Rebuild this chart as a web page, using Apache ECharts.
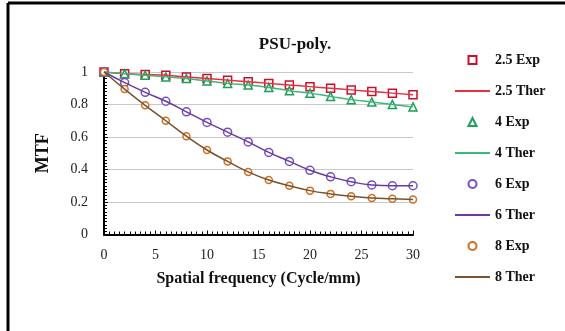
<!DOCTYPE html>
<html>
<head>
<meta charset="utf-8">
<script src="https://cdn.jsdelivr.net/npm/echarts@6/dist/echarts.min.js"></script>
<style>
  html, body { margin: 0; padding: 0; background: #fff; }
  #chart { width: 565px; height: 331px; }
</style>
</head>
<body>
<div id="chart"></div>
<script>
// 空间频率 (Cycle/mm)
var freq = [0, 2, 4, 6, 8, 10, 12, 14, 16, 18, 20, 22, 24, 26, 28, 30];
// MTF 实验值
var exp25 = [1.0, 0.99, 0.985, 0.98, 0.97, 0.96, 0.95, 0.94, 0.93, 0.92, 0.91, 0.90, 0.89, 0.88, 0.87, 0.86];
var exp4  = [1.0, 0.99, 0.98, 0.97, 0.96, 0.945, 0.93, 0.92, 0.905, 0.885, 0.87, 0.85, 0.83, 0.815, 0.80, 0.785];
var exp6  = [1.0, 0.935, 0.875, 0.82, 0.755, 0.69, 0.63, 0.57, 0.505, 0.45, 0.395, 0.355, 0.325, 0.305, 0.30, 0.30];
var exp8  = [1.0, 0.895, 0.795, 0.70, 0.605, 0.52, 0.45, 0.385, 0.335, 0.30, 0.27, 0.25, 0.235, 0.225, 0.22, 0.215];
// MTF 理论值
var ther25 = [1.0, 0.99, 0.985, 0.98, 0.97, 0.96, 0.95, 0.94, 0.93, 0.92, 0.91, 0.90, 0.89, 0.88, 0.87, 0.86];
var ther4  = [1.0, 0.99, 0.98, 0.97, 0.96, 0.945, 0.93, 0.92, 0.905, 0.885, 0.87, 0.85, 0.83, 0.815, 0.80, 0.785];
var ther6  = [1.0, 0.935, 0.875, 0.82, 0.755, 0.69, 0.63, 0.57, 0.505, 0.45, 0.395, 0.355, 0.325, 0.305, 0.30, 0.30];
var ther8  = [1.0, 0.895, 0.795, 0.70, 0.605, 0.52, 0.45, 0.385, 0.335, 0.30, 0.27, 0.25, 0.235, 0.225, 0.22, 0.215];

var expNames = ['2.5 Exp', '4 Exp', '6 Exp', '8 Exp'];
var therNames = ['2.5 Ther', '4 Ther', '6 Ther', '8 Ther'];

function pairs(ys) {
  var out = [];
  for (var i = 0; i < freq.length; i++) {
    out.push([freq[i], ys[i]]);
  }
  return out;
}

// 实验值: 只画空心标记
function expSeries(name, ys, symbol, color, size) {
  return {
    name: name,
    type: 'line',
    data: pairs(ys),
    symbol: symbol,
    symbolSize: size,
    showSymbol: true,
    z: 3,
    lineStyle: { width: 0, opacity: 0 },
    itemStyle: { color: '#fff', borderColor: color, borderWidth: 1.5 }
  };
}

// 理论值: 只画线
function therSeries(name, ys, color) {
  return {
    name: name,
    type: 'line',
    data: pairs(ys),
    symbol: 'none',
    smooth: true,
    z: 4,
    lineStyle: { color: color, width: 1.5 },
    itemStyle: { color: color }
  };
}

var legendData = [];
for (var k = 0; k < expNames.length; k++) {
  legendData.push({ name: expNames[k], lineStyle: { opacity: 0, width: 0 } });
  legendData.push({ name: therNames[k], itemStyle: { opacity: 0 } });
}

var font = '"Liberation Serif", "Times New Roman", serif';

var option = {
  backgroundColor: '#fff',
  animation: false,
  title: {
    text: 'PSU-poly.',
    left: 290,
    textAlign: 'center',
    top: 31,
    textStyle: { fontFamily: font, fontWeight: 'bold', fontSize: 17, color: '#111' }
  },
  legend: {
    data: legendData,
    orient: 'vertical',
    left: 449,
    top: 48,
    itemWidth: 35,
    itemHeight: 10,
    itemGap: 17,
    textStyle: { fontFamily: font, fontWeight: 'bold', fontSize: 14, color: '#111' }
  },
  grid: { left: 104, right: 152, top: 72, bottom: 96.5 },
  xAxis: {
    type: 'value',
    min: 0, max: 30, interval: 5,
    name: 'Spatial frequency (Cycle/mm)',
    nameLocation: 'middle',
    nameGap: 36,
    nameTextStyle: { fontFamily: font, fontWeight: 'bold', fontSize: 16, color: '#111' },
    axisLine: { show: true, lineStyle: { color: '#000', width: 2 } },
    axisTick: { show: true, inside: true, length: 4, lineStyle: { color: '#000' } },
    minorTick: { show: true, splitNumber: 10, length: 3, lineStyle: { color: '#000' } },
    axisLabel: { fontFamily: font, fontSize: 14, color: '#222', margin: 14 },
    splitLine: { show: false }
  },
  yAxis: {
    type: 'value',
    min: 0, max: 1, interval: 0.2,
    name: 'MTF',
    nameLocation: 'middle',
    nameGap: 52,
    nameTextStyle: { fontFamily: font, fontWeight: 'bold', fontSize: 18, color: '#111' },
    axisLine: { show: true, lineStyle: { color: '#000', width: 2 } },
    axisTick: { show: true, inside: true, length: 4, lineStyle: { color: '#000' } },
    minorTick: { show: true, splitNumber: 10, length: 3, lineStyle: { color: '#000' } },
    axisLabel: {
      fontFamily: font, fontSize: 14, color: '#222', margin: 16,
      formatter: function (v) { return String(Math.round(v * 10) / 10); }
    },
    splitLine: { show: true, lineStyle: { color: '#c8c8c8', width: 1 } }
  },
  graphic: [
    { type: 'line', shape: { x1: 8, y1: 3, x2: 565, y2: 3 }, style: { stroke: '#000', lineWidth: 3 } },
    { type: 'line', shape: { x1: 8, y1: 3, x2: 8, y2: 331 }, style: { stroke: '#000', lineWidth: 3 } }
  ],
  series: [
    expSeries('2.5 Exp', exp25, 'rect', '#c8102e', 8),
    therSeries('2.5 Ther', ther25, '#e8303e'),
    expSeries('4 Exp', exp4, 'triangle', '#1e9e5a', 8),
    therSeries('4 Ther', ther4, '#3cb878'),
    expSeries('6 Exp', exp6, 'circle', '#7450c8', 8),
    therSeries('6 Ther', ther6, '#6a3a9e'),
    expSeries('8 Exp', exp8, 'circle', '#d07020', 7),
    therSeries('8 Ther', ther8, '#7a5230')
  ]
};

var myChart = echarts.init(document.getElementById('chart'));
myChart.setOption(option);
</script>
</body>
</html>
